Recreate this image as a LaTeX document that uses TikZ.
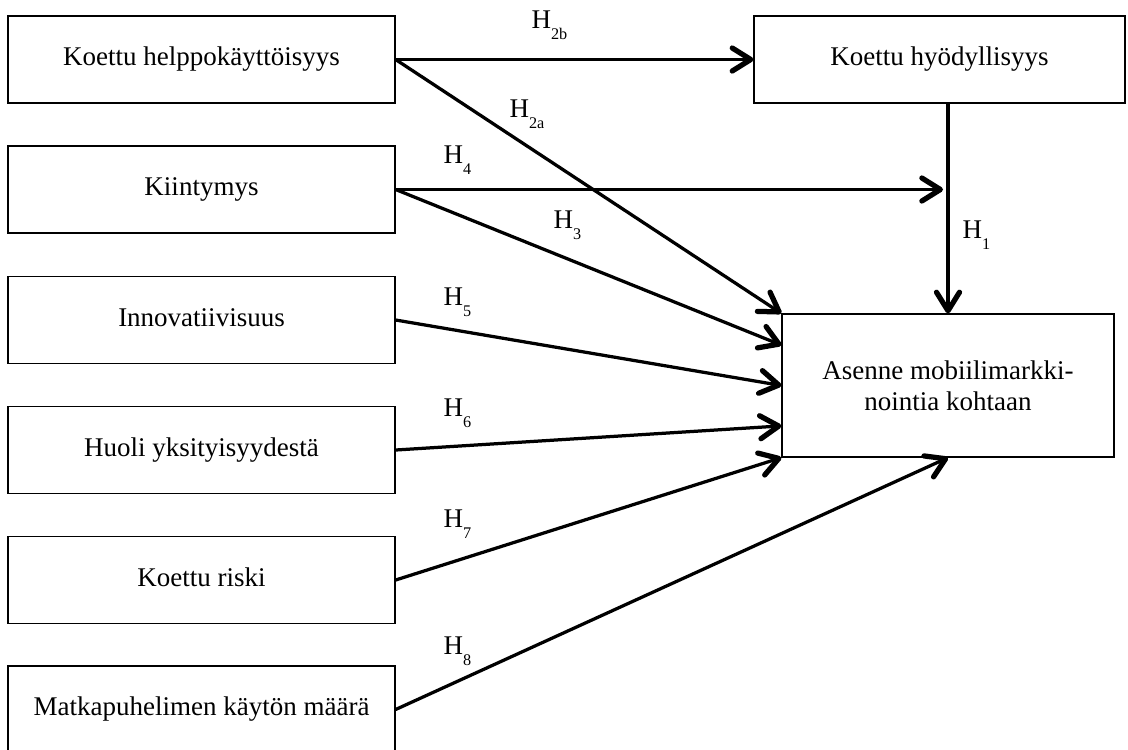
\documentclass[tikz,border=0pt]{standalone}
\usepackage{fontspec}
\setmainfont{Liberation Serif}
\usetikzlibrary{arrows.meta,calc}
\tikzset{>={Straight Barb[length=7.4pt,width=9.2pt,line width=2.1pt 0,round]}}
\newcommand{\hyp}[1]{H\raisebox{-4.4pt}{\fontsize{6.5}{8}\selectfont #1}}

\begin{document}
\begin{tikzpicture}[x=0.4pt,y=-0.4pt,
  every node/.style={font=\fontsize{10.8}{12.4}\selectfont},
  box/.style={draw,line width=0.5pt,minimum width=154.8pt,minimum height=34.8pt,
    text height=0.62em,text depth=0.12em,align=center},
  hyp/.style={anchor=base west,inner sep=0},
  link/.style={->,line width=1.3pt}]
\useasboundingbox (0,0) rectangle (1128,749);
  \node[box] (ease) at (201.5,59.5) {Koettu helppokäyttöisyys};
  \node[box] (attach) at (201.5,189.5) {Kiintymys};
  \node[box] (innov) at (201.5,320) {Innovatiivisuus};
  \node[box] (privacy) at (201.5,450) {Huoli yksityisyydestä};
  \node[box] (risk) at (201.5,580) {Koettu riski};
  \node[box] (usage) at (201.5,709.5) {Matkapuhelimen käytön määrä};
  \node[box,minimum width=148.4pt] (useful) at (939.5,59.5) {Koettu hyödyllisyys};
  \node[draw,line width=0.5pt,minimum width=132.8pt,minimum height=57.2pt,align=center]
    (goal) at (948,385.5) {Asenne mobiilimarkki-\\nointia kohtaan};
  \coordinate (meet) at ($(goal.north |- attach.east)+(-5,0)$);
  \draw[link] (ease.east) -- (useful.west);
  \draw[link] (ease.east) -- (goal.north west);
  \draw[link] (attach.east) -- (meet);
  \draw[link] (attach.east) -- ($(goal.north west)!0.22!(goal.south west)$);
  \draw[link] (innov.east) -- (goal.west);
  \draw[link] (privacy.east) -- ($(goal.north west)!0.78!(goal.south west)$);
  \draw[link] (risk.east) -- (goal.south west);
  \draw[link] (usage.east) -- (goal.south);
  \draw[link] (useful.south -| goal.north) -- (goal.north);
  \node[hyp] (h2b) at (531,28) {\hyp{2b}};
  \node[hyp] (h2a) at (509,117) {\hyp{2a}};
  \node[hyp] (h4) at (443,163) {\hyp{4}};
  \node[hyp] (h3) at (553,228) {\hyp{3}};
  \node[hyp] (h1) at (962,238) {\hyp{1}};
  \node[hyp] (h5) at (443,305) {\hyp{5}};
  \node[hyp] (h6) at (443,416) {\hyp{6}};
  \node[hyp] (h7) at (443,527) {\hyp{7}};
  \node[hyp] (h8) at (443,654) {\hyp{8}};
\end{tikzpicture}
\end{document}
